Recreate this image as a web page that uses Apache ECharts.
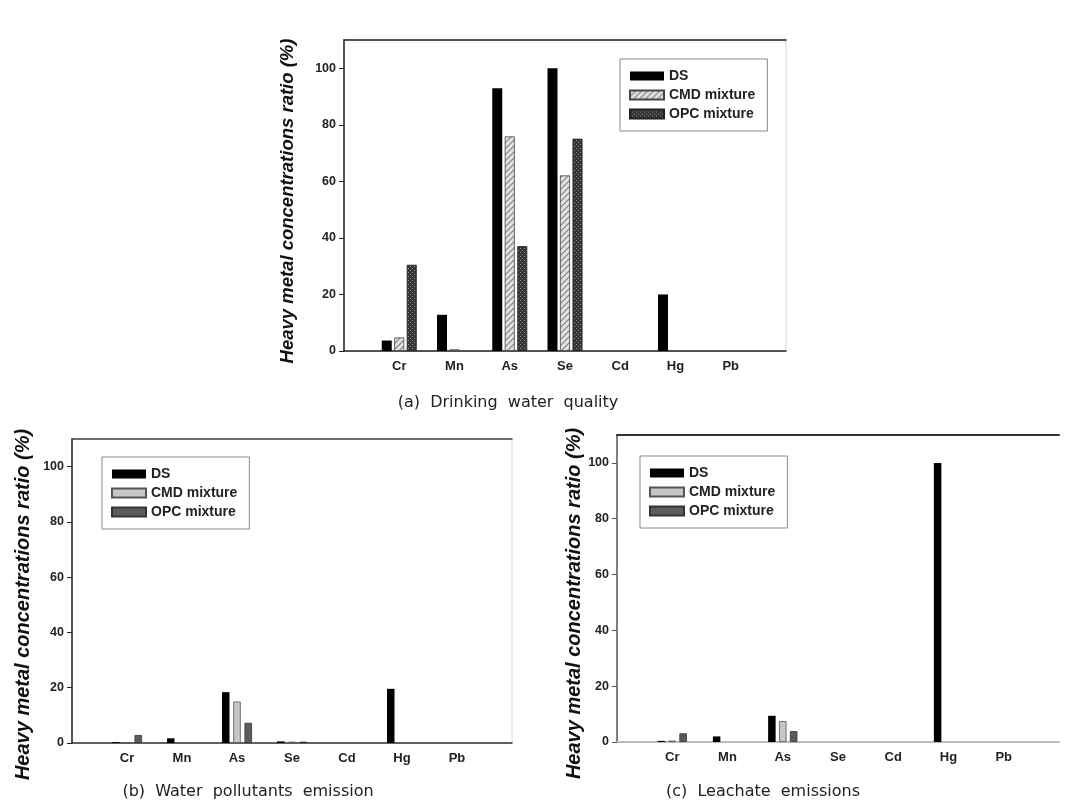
<!DOCTYPE html>
<html><head><meta charset="utf-8">
<script src="https://cdn.jsdelivr.net/npm/echarts@6/dist/echarts.min.js"></script>
<style>html,body{margin:0;padding:0;background:#fff}#c{width:1076px;height:811px}</style>
</head><body><div id="c"></div>
<script>
const categories = ['Cr','Mn','As','Se','Cd','Hg','Pb'];
const seriesNames = ['DS','CMD mixture','OPC mixture'];
const yTicks = [0,20,40,60,80,100];
// (a) Drinking water quality
const drinkDS  = [3.7, 12.8, 92.9, 100, 0, 20, 0];
const drinkCMD = [4.8, 0.6, 75.9, 62.1, 0, 0, 0];
const drinkOPC = [30.5, 0, 37.1, 75.1, 0, 0, 0];
// (b) Water pollutants emission
const waterDS  = [0.3, 1.7, 18.4, 0.6, 0, 19.6, 0];
const waterCMD = [0.2, 0, 15.0, 0.5, 0, 0, 0];
const waterOPC = [2.9, 0, 7.3, 0.5, 0, 0, 0];
// (c) Leachate emissions
const leachDS  = [0.4, 2.0, 9.4, 0, 0, 100, 0];
const leachCMD = [0.5, 0, 7.5, 0, 0, 0, 0];
const leachOPC = [3.1, 0, 3.9, 0, 0, 0, 0];
const captions = ['(a)  Drinking  water  quality', '(b)  Water  pollutants  emission', '(c)  Leachate  emissions'];
const yName = 'Heavy metal concentrations ratio (%)';

const FONT = 'Arial, "Liberation Sans", sans-serif';

function hatch(){
  const c=document.createElement('canvas'); c.width=c.height=6;
  const g=c.getContext('2d');
  g.fillStyle='#e4e4e4'; g.fillRect(0,0,6,6);
  g.strokeStyle='#8c8c8c'; g.lineWidth=1.3;
  g.beginPath();
  g.moveTo(-1,7); g.lineTo(7,-1);
  g.moveTo(-1,1); g.lineTo(1,-1);
  g.moveTo(5,7); g.lineTo(7,5);
  g.stroke();
  return c;
}
function checker(){
  const c=document.createElement('canvas'); c.width=c.height=4;
  const g=c.getContext('2d');
  g.fillStyle='#353535'; g.fillRect(0,0,4,4);
  g.fillStyle='#8e8e8e'; g.fillRect(0,0,1,1); g.fillRect(2,2,1,1);
  return c;
}

const axisCats = ['', ...categories, ' '];

const panels = [
  {tag:'a', grid:{left:344, top:40, width:442, height:311}, vals:[drinkDS,drinkCMD,drinkOPC],
   barWidth:10, barGap:'25%', nameGap:47, nameSize:18.5, namePad:[0,11,0,0],
   leftCol:'#222', botCol:'#222', botW:1.5, topCol:'#222', border:'#d8d8d8',
   styles:[{color:'#000'},
           {color:{image:hatch(), repeat:'repeat'}, borderColor:'#444', borderWidth:0.8},
           {color:{image:checker(), repeat:'repeat'}, borderColor:'#222', borderWidth:0.8}],
   legend:{left:620, top:59}},
  {tag:'b', grid:{left:72, top:439, width:440, height:304}, vals:[waterDS,waterCMD,waterOPC],
   barWidth:7.5, barGap:'50%', nameGap:39, nameSize:20, namePad:[0,27,0,0],
   leftCol:'#222', botCol:'#333', botW:1.5, topCol:'#444', border:'#d8d8d8',
   styles:[{color:'#000'},{color:'#c6c6c6', borderColor:'#555', borderWidth:0.8},{color:'#5c5c5c', borderColor:'#333', borderWidth:0.8}],
   legend:{left:102, top:457}},
  {tag:'c', grid:{left:617, top:435, width:442, height:307}, vals:[leachDS,leachCMD,leachOPC],
   barWidth:7.5, barGap:'45%', nameGap:27, nameSize:20, namePad:[0,30,0,0],
   leftCol:'#555', botCol:'#bbb', botW:2, topCol:'#333', border:'rgba(0,0,0,0)',
   styles:[{color:'#000'},{color:'#c6c6c6', borderColor:'#555', borderWidth:0.8},{color:'#5c5c5c', borderColor:'#333', borderWidth:0.8}],
   legend:{left:640, top:456}}
];

const grid=[], xAxis=[], yAxis=[], series=[], legend=[];
panels.forEach((p,i)=>{
  grid.push(Object.assign({show:true, borderColor:p.border, borderWidth:1, backgroundColor:'transparent'}, p.grid));
  xAxis.push({type:'category', gridIndex:i, data:axisCats, boundaryGap:false,
    axisLine:{lineStyle:{color:p.botCol, width:p.botW}}, axisTick:{show:false},
    axisLabel:{interval:0, fontWeight:'bold', fontSize:13, color:'#222', margin:9, fontFamily:FONT},
    splitLine:{show:false}});
  yAxis.push({type:'value', gridIndex:i, min:0, max:110, interval:20,
    axisLine:{show:true, lineStyle:{color:p.leftCol, width:1.5}},
    axisTick:{show:true, inside:false, length:5, lineStyle:{color:p.leftCol}, customValues:yTicks},
    axisLabel:{fontWeight:'bold', fontSize:12.5, color:'#222', margin:8, fontFamily:FONT, customValues:yTicks},
    splitLine:{show:false},
    name:yName, nameLocation:'middle', nameRotate:90, nameGap:p.nameGap,
    nameTextStyle:{fontStyle:'italic', fontWeight:'bold', fontSize:p.nameSize, color:'#111', fontFamily:FONT, padding:p.namePad}});
  p.vals.forEach((vals,k)=>{
    series.push({type:'bar', name:seriesNames[k]+'|'+p.tag, xAxisIndex:i, yAxisIndex:i,
      barWidth:p.barWidth, barGap:p.barGap, itemStyle:p.styles[k],
      data:categories.map((c,j)=>[c, vals[j] === 0 ? null : vals[j]]), animation:false});
  });
  legend.push({orient:'vertical', left:p.legend.left, top:p.legend.top,
    data:seriesNames.map(n=>n+'|'+p.tag), itemWidth:34, itemHeight:9, itemGap:5,
    borderColor:'#8a8a8a', borderWidth:1, padding:[10,12,10,9], icon:'rect',
    selectedMode:false,
    textStyle:{fontWeight:'bold', fontSize:14, color:'#222', lineHeight:14, fontFamily:FONT},
    formatter:n=>n.split('|')[0]});
});
// top border lines
panels.forEach((p,i)=>{
  xAxis.push({type:'category', gridIndex:i, position:'top', data:axisCats, boundaryGap:false,
    axisLine:{lineStyle:{color:p.topCol, width:i===2?2:1.5}}, axisTick:{show:false}, axisLabel:{show:false}});
});

const capPos = [[508,403],[248,792],[763,792]];
const graphic = captions.map((t,i)=>({type:'text', x:capPos[i][0], y:capPos[i][1], silent:true,
  style:{text:t, align:'center', verticalAlign:'middle', textAlign:'center', textVerticalAlign:'middle',
    fontSize:16, fontFamily:'"DejaVu Sans", sans-serif', fill:'#222'}}));

const chart = echarts.init(document.getElementById('c'), null, {renderer:'canvas'});
chart.setOption({animation:false, backgroundColor:'#fff', grid, xAxis, yAxis, series, legend, graphic});
</script>
</body></html>
